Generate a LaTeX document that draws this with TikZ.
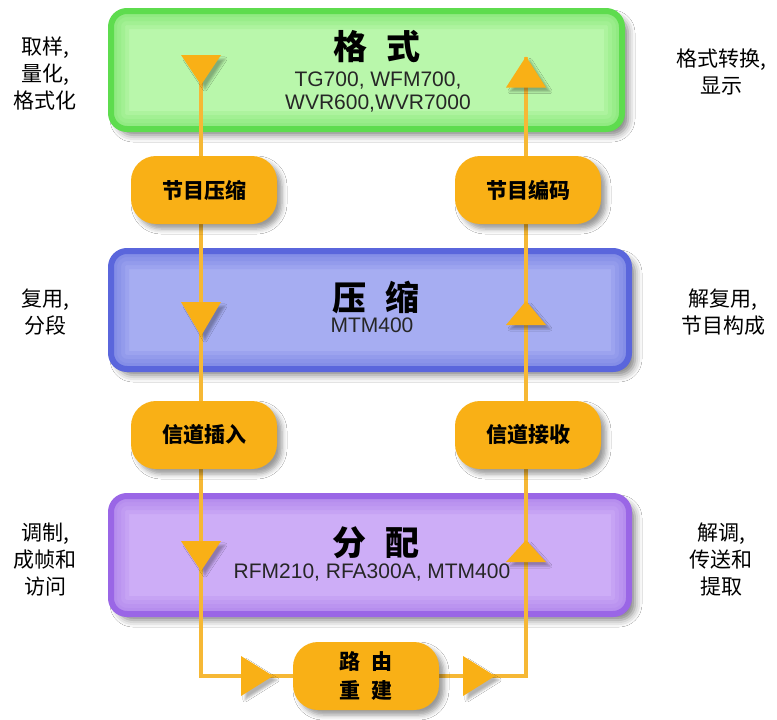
\documentclass[tikz,border=0pt]{standalone}
\usepackage{fontspec}
\setmainfont{Liberation Sans}
\newfontfamily\cjk{Noto Sans CJK SC}
\usetikzlibrary{shadows.blur}

\definecolor{fmtEdge}{HTML}{5EDC4E}
\definecolor{fmtFill}{HTML}{B9F7AB}
\definecolor{cmpEdge}{HTML}{5A66DC}
\definecolor{cmpFill}{HTML}{A6ADF2}
\definecolor{dstEdge}{HTML}{9A66E6}
\definecolor{dstFill}{HTML}{CDADF7}
\definecolor{orng}{HTML}{F9B016}
\definecolor{flowc}{HTML}{F6B835}

\tikzset{
  stage/.style 2 args={rounded corners=16pt, fill=#2, draw=#1, line width=6pt, inner sep=0pt,
    minimum width=518pt, minimum height=118pt,
    path picture={\foreach \w in {36,28,20,12}
      \draw[#1, line width=\w pt, opacity=.13, rounded corners=16pt]
      (path picture bounding box.south west) rectangle (path picture bounding box.north east);},
    blur shadow={shadow xshift=6pt, shadow yshift=-6pt, shadow blur radius=7pt, shadow opacity=50}},
  ttl/.style={font=\cjk\bfseries\fontsize{34}{38}\selectfont, inner sep=0pt},
  sub/.style={font=\fontsize{21}{23}\selectfont, text=black!85, align=center, inner sep=0pt},
  pill/.style={rounded corners=25pt, fill=orng, minimum width=146pt, minimum height=68pt, inner sep=0pt,
    font=\cjk\bfseries\fontsize{21}{29}\selectfont, align=center,
    blur shadow={shadow xshift=5pt, shadow yshift=-5pt, shadow blur radius=5pt, shadow opacity=40}},
  side/.style={font=\cjk\fontsize{21}{27}\selectfont, align=center, inner sep=0pt},
  flow/.style={flowc, line width=3.5pt},
  tridown/.pic={\fill[orng, blur shadow={shadow xshift=4pt, shadow yshift=-4pt, shadow opacity=30}]
    (-20,-#1/2) -- (20,-#1/2) -- (0,#1/2) -- cycle;},
  triup/.pic={\fill[orng, blur shadow={shadow xshift=4pt, shadow yshift=-4pt, shadow opacity=30}]
    (-20,#1/2) -- (20,#1/2) -- (0,-#1/2) -- cycle;},
  triright/.pic={\fill[orng, blur shadow={shadow xshift=4pt, shadow yshift=-4pt, shadow opacity=30}]
    (-16,-20) -- (-16,20) -- (16,0) -- cycle;}
}

\begin{document}
\begin{tikzpicture}[x=1pt,y=-1pt]
\fill[white] (0,0) rectangle (777,720);
\useasboundingbox (0,0) rectangle (777,720);

% stages
\node[stage={fmtEdge}{fmtFill}, minimum width=511pt] (fmt) at (366.5,70) {};
\node[stage={cmpEdge}{cmpFill}] (cmp) at (370,310) {};
\node[stage={dstEdge}{dstFill}] (dst) at (370,555) {};

% flow
\coordinate (lTop) at (201,55);
\coordinate (lBot) at (201,676);
\coordinate (rtIn) at (300,676);
\coordinate (rtOut) at (430,676);
\coordinate (rBot) at (526,676);
\coordinate (rTop) at (526,57);
\draw[flow] (lTop) -- (lBot) -- (rtIn);
\draw[flow] (rtOut) -- (rBot) -- (rTop);

\node[ttl] (fmtT) at (377,47) {格\hspace{.55em}式};
\node[sub] (fmtS) at (378,92) {TG700, WFM700,\\WVR600,WVR7000};
\node[ttl] (cmpT) at (376,298) {压\hspace{.55em}缩};
\node[sub] (cmpS) at (372,325) {MTM400};
\node[ttl] (dstT) at (376,543) {分\hspace{.55em}配};
\node[sub] (dstS) at (372,573) {RFM210, RFA300A, MTM400};

% process pills
\node[pill] (pcmp) at (204,190) {节目压缩};
\node[pill] (penc) at (528,190) {节目编码};
\node[pill] (pins) at (204,435) {信道插入};
\node[pill] (prcv) at (528,435) {信道接收};
\node[pill] (route) at (366,676) {路\hspace{.5em}由\\重\hspace{.5em}建};

% side notes
\node[side] (sL1) at (45,74) {取样,\\量化,\\格式化};
\node[side] (sR1) at (721,72) {格式转换,\\显示};
\node[side] (sL2) at (45,312) {复用,\\分段};
\node[side] (sR2) at (723,312) {解复用,\\节目构成};
\node[side] (sL3) at (45,560) {调制,\\成帧和\\访问};
\node[side] (sR3) at (721,560) {解调,\\传送和\\提取};

\pic at (201,70) {tridown=30};
\pic at (201,319) {tridown=34};
\pic at (201,556) {tridown=30};
\pic at (526,72) {triup=31};
\pic at (526,313) {triup=24};
\pic at (526,551) {triup=22};
\pic at (257,676) {triright};
\pic at (479,676) {triright};
\end{tikzpicture}
\end{document}
